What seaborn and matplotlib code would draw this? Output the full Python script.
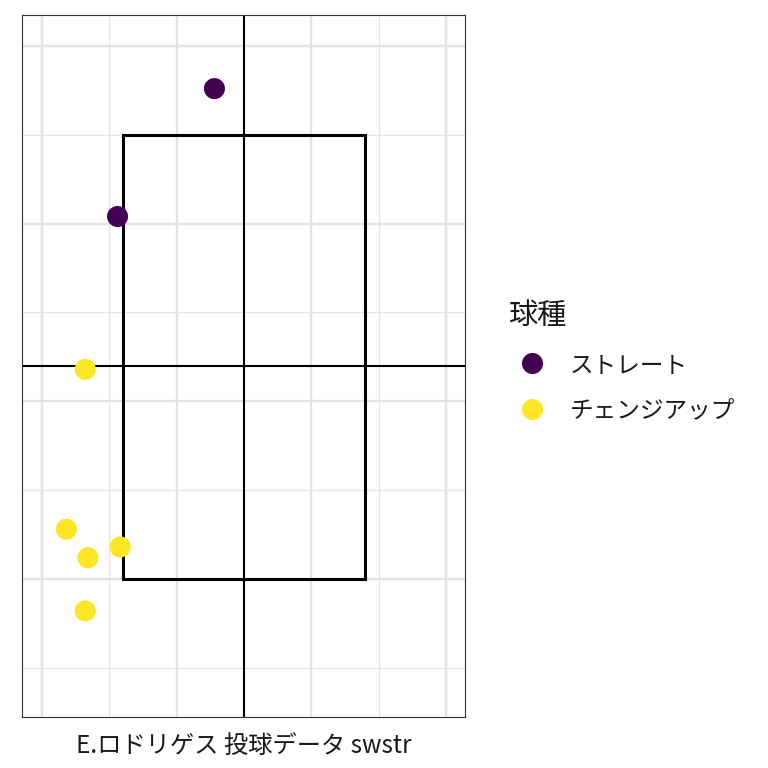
import matplotlib
matplotlib.use('Agg')
import matplotlib.pyplot as plt
from matplotlib.patches import Rectangle
import seaborn as sns
import pandas as pd

# pitch locations (horizontal / height)
pitch_type = ['ストレート', 'ストレート',
              'チェンジアップ', 'チェンジアップ', 'チェンジアップ', 'チェンジアップ', 'チェンジアップ']
plate_x = [-0.22, -0.94, -1.18, -1.32, -1.16, -0.92, -1.18]
plate_z = [3.76, 3.04, 2.18, 1.28, 1.12, 1.18, 0.82]

# strike zone and reference lines
zone_x = [-0.90, 0.90]
zone_z = [1.0, 3.5]
center_x = 0.0
center_z = 2.2

df = pd.DataFrame({'x': plate_x, 'z': plate_z, '球種': pitch_type})

sns.set_style('white')
plt.rcParams['font.family'] = ['Noto Sans CJK JP', 'DejaVu Sans']

fig = plt.figure(figsize=(7.68, 7.68), dpi=100)
ax = fig.add_axes([0.029, 0.0664, 0.577, 0.914])

# grid like theme_bw
ax.set_xticks([-1.5, -0.5, 0.5, 1.5])
ax.set_xticks([-1.0, 0.0, 1.0], minor=True)
ax.set_yticks([1, 2, 3, 4])
ax.set_yticks([0.5, 1.5, 2.5, 3.5], minor=True)
ax.grid(which='major', color='#E3E3E3', linewidth=1.7)
ax.grid(which='minor', color='#E6E6E6', linewidth=0.9)
ax.set_axisbelow(True)
ax.tick_params(which='both', length=0, labelbottom=False, labelleft=False)

ax.axvline(center_x, color='black', linewidth=1.5, zorder=2)
ax.axhline(center_z, color='black', linewidth=1.5, zorder=2)
ax.add_patch(Rectangle((zone_x[0], zone_z[0]), zone_x[1] - zone_x[0], zone_z[1] - zone_z[0],
                       fill=False, edgecolor='black', linewidth=2.2, zorder=2))

sns.scatterplot(data=df, x='x', y='z', hue='球種',
                palette={'ストレート': '#440154', 'チェンジアップ': '#FDE725'},
                s=230, linewidth=0, ax=ax, zorder=3)

ax.set_xlim(-1.648, 1.645)
ax.set_ylim(0.223, 4.174)
ax.set_xlabel('')
ax.set_ylabel('')
fig.text(0.3175, 0.029, 'E.ロドリゲス 投球データ swstr', fontsize=17.5,
         ha='center', va='center', color='#1A1A1A')

for sp in ax.spines.values():
    sp.set_color('#333333')
    sp.set_linewidth(0.8)

leg = ax.legend(title='球種', loc='center left', bbox_to_anchor=(0.662, 0.529),
                bbox_transform=fig.transFigure, frameon=False, fontsize=17,
                title_fontsize=21, labelspacing=0.95, handletextpad=0.6,
                borderaxespad=0, borderpad=0, markerscale=1.0, alignment='left')
for t in leg.get_texts():
    t.set_color('#1A1A1A')
leg.get_title().set_color('#1A1A1A')

fig.savefig('out.png', dpi=100)
